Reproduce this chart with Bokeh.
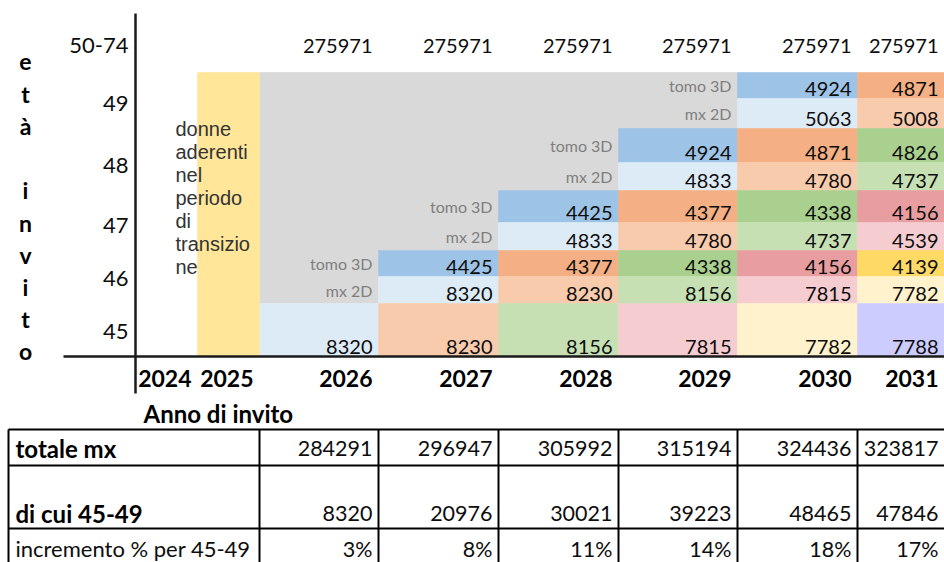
from bokeh.plotting import figure
from bokeh.models import ColumnDataSource, Range1d
from bokeh.core.properties import value
from bokeh.embed import file_html
from bokeh.resources import INLINE

# ------------------------------------------------------------------ data
years = [2024, 2025, 2026, 2027, 2028, 2029, 2030, 2031]
invite_years = [2026, 2027, 2028, 2029, 2030, 2031]
age_labels = ["50-74", "49", "48", "47", "46", "45"]
axis_title_letters = ["e", "t", "à", "", "i", "n", "v", "i", "t", "o"]
x_title = "Anno di invito"
transition_note = ["donne", "aderenti", "nel", "periodo", "di", "transizio", "ne"]
kind_labels = {"tomo": "tomo 3D", "mx": "mx 2D"}

eta_50_74 = [275971, 275971, 275971, 275971, 275971, 275971]
eta_49_tomo3d = [None, None, None, None, 4924, 4871]
eta_49_mx2d = [None, None, None, None, 5063, 5008]
eta_48_tomo3d = [None, None, None, 4924, 4871, 4826]
eta_48_mx2d = [None, None, None, 4833, 4780, 4737]
eta_47_tomo3d = [None, None, 4425, 4377, 4338, 4156]
eta_47_mx2d = [None, None, 4833, 4780, 4737, 4539]
eta_46_tomo3d = [None, 4425, 4377, 4338, 4156, 4139]
eta_46_mx2d = [None, 8320, 8230, 8156, 7815, 7782]
eta_45 = [8320, 8230, 8156, 7815, 7782, 7788]

table_row_labels = ["totale mx", "di cui 45-49", "incremento % per 45-49"]
totale_mx = [284291, 296947, 305992, 315194, 324436, 323817]
di_cui_45_49 = [8320, 20976, 30021, 39223, 48465, 47846]
incremento_pct = [3, 8, 11, 14, 18, 17]

# ------------------------------------------------------------------ layout / style
FONT = value("Lato")
INK = "#0d0d0d"
W, H = 944, 562
col_edges = [135, 197, 259, 378, 498, 618, 737, 857, 944]
col_left = dict(zip(years, col_edges[:-1]))
col_right = dict(zip(years, col_edges[1:]))
fill_right = dict(col_right)
fill_right[2031] = 960

grid_rows = [
    (49, "tomo", eta_49_tomo3d), (49, "mx", eta_49_mx2d),
    (48, "tomo", eta_48_tomo3d), (48, "mx", eta_48_mx2d),
    (47, "tomo", eta_47_tomo3d), (47, "mx", eta_47_mx2d),
    (46, "tomo", eta_46_tomo3d), (46, "mx", eta_46_mx2d),
    (45, None, eta_45),
]
row_edges = [72, 98, 128, 162, 190, 222, 250, 276, 303, 356]
band_bottom = {49: 128, 48: 190, 47: 250, 46: 303, 45: 356}

DARK = ["#9DC3E6", "#F4B084", "#A9D08E", "#E89EA0", "#FFD966"]
LIGHT = ["#DDEBF7", "#F8CBAD", "#C6E0B4", "#F5CCD0", "#FFF2CC", "#CCCCFF"]
GRAY = "#D9D9D9"
GOLD = "#FFE699"

p = figure(width=W, height=H, output_backend="svg", toolbar_location=None,
           x_range=Range1d(0, W), y_range=Range1d(H, 0),
           x_axis_type=None, y_axis_type=None, min_border=0)
p.outline_line_color = None
p.grid.visible = False
p.background_fill_color = "white"

# -------- cells
cl, cr, ct, cb, cc = [], [], [], [], []
vx, vy, vt = [], [], []
gx, gy, gt = [], [], []
for r, (age, kind, vals) in enumerate(grid_rows):
    top, bot = row_edges[r], row_edges[r + 1]
    for j, yr in enumerate(invite_years):
        v = vals[j]
        cl.append(col_left[yr]); cr.append(fill_right[yr]); ct.append(top); cb.append(bot)
        if v is None:
            cc.append(GRAY)
            if j + 1 < len(vals) and vals[j + 1] is not None:
                gx.append(col_right[yr] - 6); gy.append((top + bot) / 2); gt.append(kind_labels[kind])
        else:
            cohort = j - (age - 45)
            cc.append(DARK[cohort] if kind == "tomo" else LIGHT[cohort])
            vx.append(col_right[yr] - 6); vy.append(bot - 10); vt.append(str(v))

# transition column (2025) in gold
cl.append(col_left[2025]); cr.append(col_right[2025]); ct.append(row_edges[0]); cb.append(row_edges[-1]); cc.append(GOLD)

p.quad(left="left", right="right", top="top", bottom="bottom", fill_color="color",
       line_color="color", line_width=0.6,
       source=ColumnDataSource(dict(left=cl, right=cr, top=ct, bottom=cb, color=cc)))

p.text(x=vx, y=vy, text=vt, text_align="right", text_baseline="middle",
       text_font=FONT, text_font_size="20px", text_color=INK)
p.text(x=gx, y=gy, text=gt, text_align="right", text_baseline="middle",
       text_font=FONT, text_font_size="16px", text_color="#7f7f7f")

# 50-74 row
p.text(x=[col_right[y] - 6 for y in invite_years], y=[45] * len(invite_years),
       text=[str(v) for v in eta_50_74], text_align="right", text_baseline="middle",
       text_font=FONT, text_font_size="20px", text_color=INK)

# age labels
age_y = [45] + [band_bottom[int(a)] - 25 for a in age_labels[1:]]
p.text(x=[128] * len(age_labels), y=age_y, text=age_labels, text_align="right",
       text_baseline="middle", text_font=FONT, text_font_size="22px", text_color=INK)

# vertical axis title, letter by letter
p.text(x=[25] * len(axis_title_letters), y=[61 + 32.2 * i for i in range(len(axis_title_letters))],
       text=axis_title_letters, text_align="center", text_baseline="middle",
       text_font=FONT, text_font_style="bold", text_font_size="23px", text_color="#000000")

# transition note
p.text(x=[175] * len(transition_note), y=[128 + 23 * i for i in range(len(transition_note))],
       text=transition_note, text_align="left", text_baseline="middle",
       text_font=value("Liberation Sans"), text_font_size="20px", text_color="#333333")

# year labels
p.text(x=[col_right[y] - 6 for y in years], y=[378] * len(years), text=[str(y) for y in years],
       text_align="right", text_baseline="middle", text_font=FONT, text_font_style="bold",
       text_font_size="23px", text_color="#000000")

# axis lines
p.segment(x0=[135, 63], y0=[13, 356], x1=[135, 950], y1=[393, 356],
          line_color="#1a1a1a", line_width=2.5)

# x title
p.text(x=[143], y=[413], text=[x_title], text_align="left", text_baseline="middle",
       text_font=FONT, text_font_style="bold", text_font_size="24px", text_color="#000000")

# -------- table
t_cols = [8, 259, 378, 498, 618, 737, 857, 944]
t_rows = [429, 465, 528, 566]
t_text_y = [448, 513, 548]
p.segment(x0=[8] * 3, y0=t_rows[:3], x1=[950] * 3, y1=t_rows[:3], line_color="black", line_width=2)
p.segment(x0=t_cols[:-1], y0=[429] * 7, x1=t_cols[:-1], y1=[570] * 7, line_color="black", line_width=2)

table_values = [[str(v) for v in totale_mx], [str(v) for v in di_cui_45_49],
                [f"{v}%" for v in incremento_pct]]
tx, ty, tt = [], [], []
for r, vals in enumerate(table_values):
    for j, s in enumerate(vals):
        tx.append(t_cols[j + 2] - 6); ty.append(t_text_y[r]); tt.append(s)
p.text(x=tx, y=ty, text=tt, text_align="right", text_baseline="middle",
       text_font=FONT, text_font_size="21.5px", text_color=INK)

p.text(x=[15, 15], y=t_text_y[:2], text=table_row_labels[:2],
       text_align="left", text_baseline="middle", text_font=FONT,
       text_font_style="bold", text_font_size="24px", text_color="#000000")
p.text(x=[15], y=t_text_y[2:], text=table_row_labels[2:],
       text_align="left", text_baseline="middle", text_font=FONT,
       text_font_size="22px", text_color=INK)

open("out.html", "w").write(file_html(p, INLINE))
